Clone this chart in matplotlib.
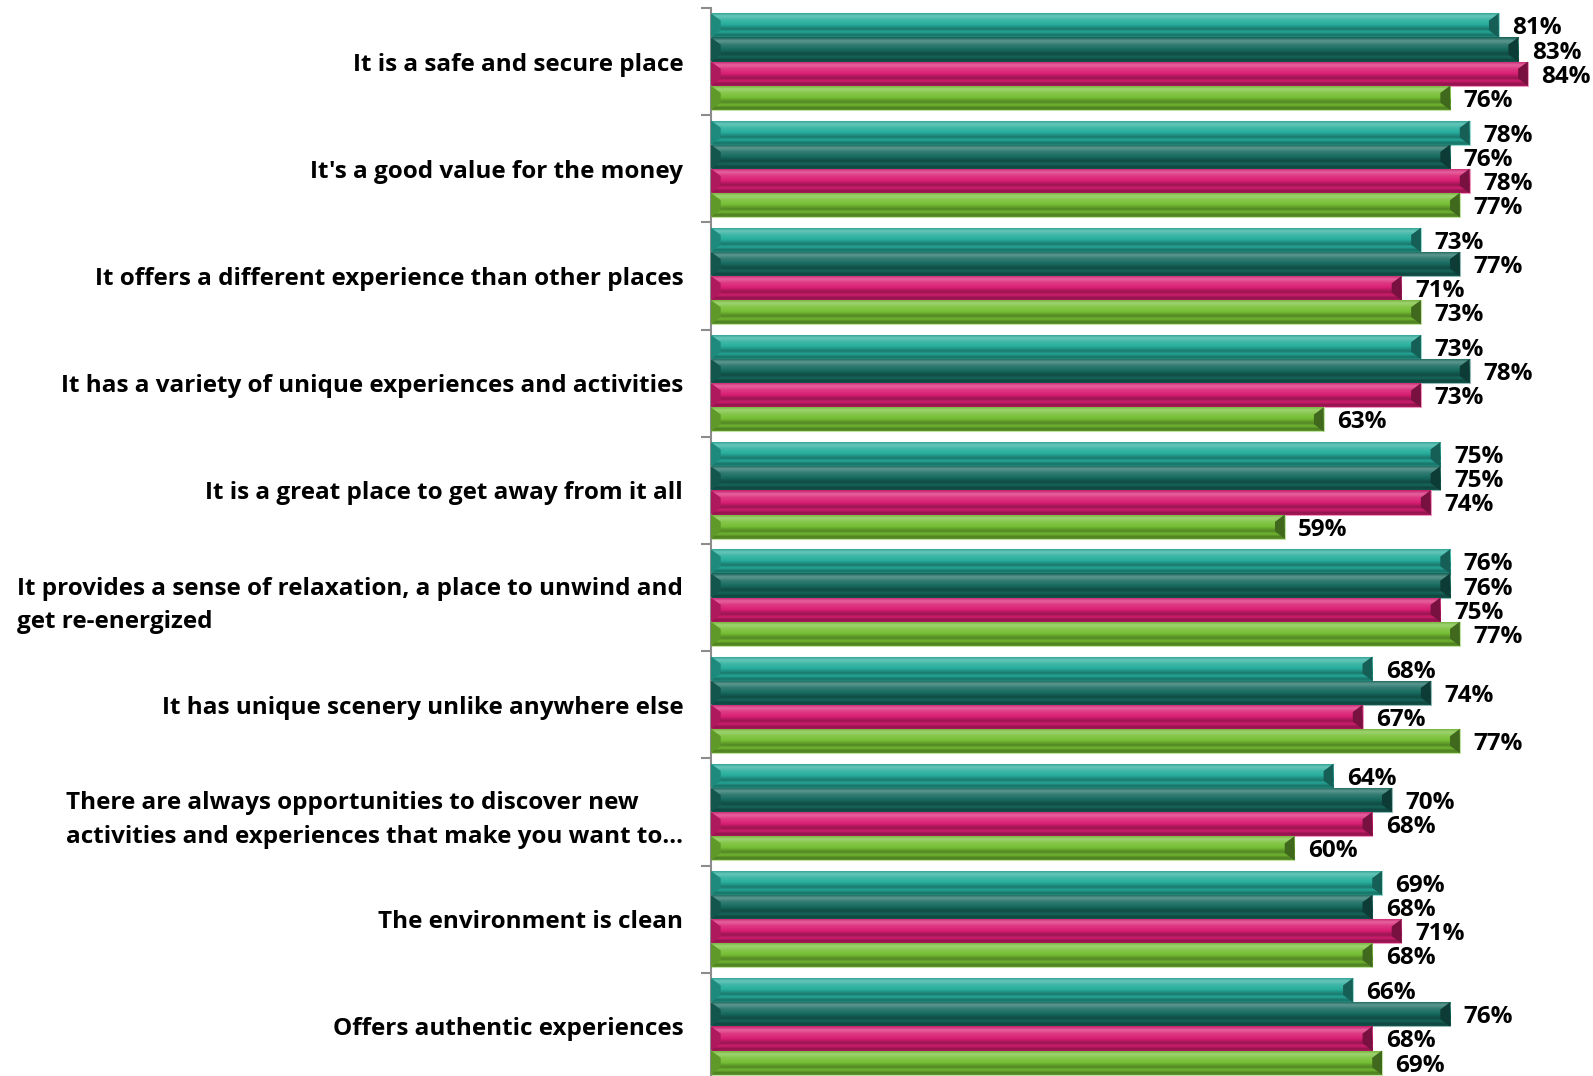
import matplotlib
matplotlib.use("Agg")
import matplotlib.pyplot as plt
import numpy as np
from matplotlib.colors import LinearSegmentedColormap, to_rgb

# chart data
categories = [
    "It is a safe and secure place",
    "It's a good value for the money",
    "It offers a different experience than other places",
    "It has a variety of unique experiences and activities",
    "It is a great place to get away from it all",
    "It provides a sense of relaxation, a place to unwind and\nget re-energized",
    "It has unique scenery unlike anywhere else",
    "There are always opportunities to discover new\nactivities and experiences that make you want to\u2026",
    "The environment is clean",
    "Offers authentic experiences",
]
series_a = [81, 78, 73, 73, 75, 76, 68, 64, 69, 66]
series_b = [83, 76, 77, 78, 75, 76, 74, 70, 68, 76]
series_c = [84, 78, 71, 73, 74, 75, 67, 68, 71, 68]
series_d = [76, 77, 73, 63, 59, 77, 77, 60, 68, 69]

series = [series_a, series_b, series_c, series_d]
colors = ["#26ad9c", "#176b60", "#da1f74", "#76bf34"]

plt.rcParams['font.family'] = ['Open Sans', 'DejaVu Sans']

fig = plt.figure(figsize=(15.93, 10.76), dpi=100)
ax = fig.add_axes([711 / 1593, -4 / 1076, 1 - 711 / 1593, 1072 / 1076])

n = len(categories)
bar_h = 0.225
y = np.arange(n)


def shade(c, f):
    r = np.array(to_rgb(c))
    if f >= 0:
        return tuple(r + (1 - r) * f)
    return tuple(r * (1 + f))


def bevel_cmap(c):
    # profile from top edge to bottom edge of a bar
    stops = [(0.0, shade(c, -0.1)), (0.15, shade(c, 0.3)), (0.3, shade(c, 0.12)),
             (0.5, shade(c, 0.0)), (0.68, shade(c, -0.3)), (0.8, shade(c, -0.05)),
             (0.92, shade(c, -0.35)), (1.0, shade(c, -0.2))]
    return LinearSegmentedColormap.from_list("b", stops)


grad = np.linspace(0, 1, 64).reshape(-1, 1)

for i, vals in enumerate(series):
    offs = (i - 1.5) * bar_h
    bars = ax.barh(y + offs, vals, height=bar_h, color=colors[i],
                   edgecolor=shade(colors[i], 0.55), linewidth=0.8, zorder=2)
    cm = bevel_cmap(colors[i])
    for b, v in zip(bars, vals):
        x0, y0 = b.get_x(), b.get_y()
        w, h = b.get_width(), b.get_height()
        im = ax.imshow(grad, cmap=cm, aspect='auto', interpolation='bilinear',
                       extent=(x0, x0 + w, y0 + h, y0), zorder=2.5)
        im.set_clip_path(b)
        tip = 1.0
        # light bevel at the start, dark bevel at the end
        ax.fill([x0, x0 + tip, x0 + tip, x0],
                [y0, y0 + h * 0.3, y0 + h * 0.7, y0 + h],
                color=shade(colors[i], -0.2), lw=0, zorder=2.6)
        ax.fill([x0 + w - tip, x0 + w, x0 + w, x0 + w - tip],
                [y0 + h * 0.3, y0, y0 + h, y0 + h * 0.7],
                color=shade(colors[i], -0.45), lw=0, zorder=2.6)
        ax.text(x0 + w + 1.4, y0 + h / 2, f"{v}%", va='center_baseline', ha='left',
                fontsize=17.5, fontweight='bold', color='black', clip_on=False)

ax.set_xlim(0, 90.7)
ax.set_ylim(n - 0.5, -0.5)

ax.set_yticks(np.arange(n + 1) - 0.5)
ax.set_yticklabels([])
ax.set_yticks(y, minor=True)
ax.set_yticklabels(categories, minor=True, fontsize=17.5, fontweight='bold',
                   ha='right', multialignment='left', linespacing=1.55)
ax.tick_params(axis='y', which='major', length=7, color='#8c8c8c', width=1.5, direction='out')
ax.tick_params(axis='y', which='minor', length=0, pad=20)
ax.set_xticks([])

for s in ['top', 'right', 'bottom']:
    ax.spines[s].set_visible(False)
ax.spines['left'].set_color('#8c8c8c')
ax.spines['left'].set_linewidth(1.5)

fig.savefig("out.png", dpi=100)
